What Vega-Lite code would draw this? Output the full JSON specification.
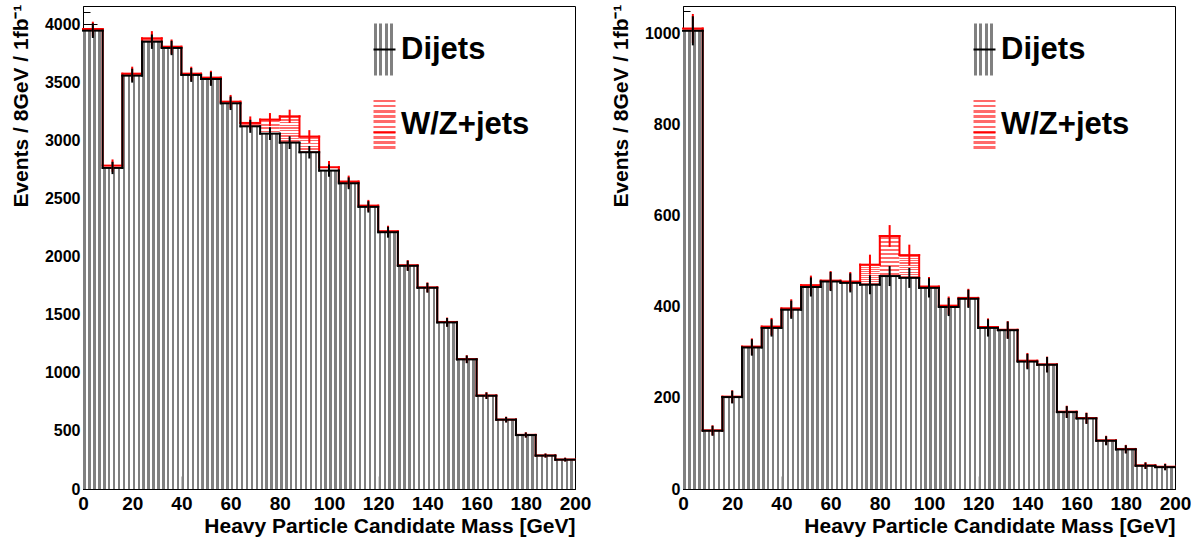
{
  "$schema": "https://vega.github.io/schema/vega-lite/v6.json",
  "padding": {"left": 9, "top": 3, "right": 5, "bottom": 0},
  "background": "white",
  "spacing": 108,
  "bounds": "flush",
  "config": {
    "font": "Liberation Sans",
    "view": {"stroke": "black", "strokeWidth": 1},
    "axis": {"grid": false, "domainColor": "black", "domainWidth": 1, "tickColor": "black", "tickWidth": 1, "labelColor": "black", "titleColor": "black", "labelFont": "Liberation Sans", "titleFont": "Liberation Sans", "labelFontWeight": "bold", "titleFontWeight": "bold", "zindex": 1, "labelOverlap": false, "labelFlush": false}
  },
  "datasets": {
    "left": [
      {"lo": 0, "hi": 8, "m": 4, "dijet": 3943, "ed": 63, "total": 3957, "et": 63},
      {"lo": 8, "hi": 16, "m": 12, "dijet": 2762, "ed": 53, "total": 2782, "et": 53},
      {"lo": 16, "hi": 24, "m": 20, "dijet": 3556, "ed": 60, "total": 3573, "et": 60},
      {"lo": 24, "hi": 32, "m": 28, "dijet": 3848, "ed": 62, "total": 3877, "et": 62},
      {"lo": 32, "hi": 40, "m": 36, "dijet": 3794, "ed": 62, "total": 3805, "et": 62},
      {"lo": 40, "hi": 48, "m": 44, "dijet": 3562, "ed": 60, "total": 3573, "et": 60},
      {"lo": 48, "hi": 56, "m": 52, "dijet": 3527, "ed": 59, "total": 3539, "et": 59},
      {"lo": 56, "hi": 64, "m": 60, "dijet": 3318, "ed": 58, "total": 3332, "et": 58},
      {"lo": 64, "hi": 72, "m": 68, "dijet": 3120, "ed": 56, "total": 3149, "et": 56},
      {"lo": 72, "hi": 80, "m": 76, "dijet": 3057, "ed": 55, "total": 3178, "et": 56},
      {"lo": 80, "hi": 88, "m": 84, "dijet": 2980, "ed": 55, "total": 3206, "et": 57},
      {"lo": 88, "hi": 96, "m": 92, "dijet": 2897, "ed": 54, "total": 3032, "et": 55},
      {"lo": 96, "hi": 104, "m": 100, "dijet": 2739, "ed": 52, "total": 2768, "et": 53},
      {"lo": 104, "hi": 112, "m": 108, "dijet": 2630, "ed": 51, "total": 2645, "et": 51},
      {"lo": 112, "hi": 120, "m": 116, "dijet": 2427, "ed": 49, "total": 2438, "et": 49},
      {"lo": 120, "hi": 128, "m": 124, "dijet": 2209, "ed": 47, "total": 2218, "et": 47},
      {"lo": 128, "hi": 136, "m": 132, "dijet": 1920, "ed": 44, "total": 1925, "et": 44},
      {"lo": 136, "hi": 144, "m": 140, "dijet": 1731, "ed": 42, "total": 1735, "et": 42},
      {"lo": 144, "hi": 152, "m": 148, "dijet": 1433, "ed": 38, "total": 1437, "et": 38},
      {"lo": 152, "hi": 160, "m": 156, "dijet": 1115, "ed": 33, "total": 1118, "et": 33},
      {"lo": 160, "hi": 168, "m": 164, "dijet": 802, "ed": 28, "total": 805, "et": 28},
      {"lo": 168, "hi": 176, "m": 172, "dijet": 596, "ed": 24, "total": 598, "et": 24},
      {"lo": 176, "hi": 184, "m": 180, "dijet": 464, "ed": 22, "total": 466, "et": 22},
      {"lo": 184, "hi": 192, "m": 188, "dijet": 287, "ed": 17, "total": 289, "et": 17},
      {"lo": 192, "hi": 200, "m": 196, "dijet": 252, "ed": 16, "total": 254, "et": 16}
    ],
    "right": [
      {"lo": 0, "hi": 8, "m": 4, "dijet": 1007, "ed": 32, "total": 1012, "et": 32},
      {"lo": 8, "hi": 16, "m": 12, "dijet": 128, "ed": 11, "total": 129, "et": 11},
      {"lo": 16, "hi": 24, "m": 20, "dijet": 202, "ed": 14, "total": 203, "et": 14},
      {"lo": 24, "hi": 32, "m": 28, "dijet": 311, "ed": 18, "total": 313, "et": 18},
      {"lo": 32, "hi": 40, "m": 36, "dijet": 354, "ed": 19, "total": 357, "et": 19},
      {"lo": 40, "hi": 48, "m": 44, "dijet": 394, "ed": 20, "total": 397, "et": 20},
      {"lo": 48, "hi": 56, "m": 52, "dijet": 444, "ed": 21, "total": 448, "et": 21},
      {"lo": 56, "hi": 64, "m": 60, "dijet": 456, "ed": 21, "total": 458, "et": 21},
      {"lo": 64, "hi": 72, "m": 68, "dijet": 453, "ed": 21, "total": 456, "et": 21},
      {"lo": 72, "hi": 80, "m": 76, "dijet": 449, "ed": 21, "total": 493, "et": 22},
      {"lo": 80, "hi": 88, "m": 84, "dijet": 468, "ed": 22, "total": 556, "et": 24},
      {"lo": 88, "hi": 96, "m": 92, "dijet": 464, "ed": 22, "total": 514, "et": 23},
      {"lo": 96, "hi": 104, "m": 100, "dijet": 442, "ed": 21, "total": 445, "et": 21},
      {"lo": 104, "hi": 112, "m": 108, "dijet": 400, "ed": 20, "total": 403, "et": 20},
      {"lo": 112, "hi": 120, "m": 116, "dijet": 418, "ed": 20, "total": 420, "et": 20},
      {"lo": 120, "hi": 128, "m": 124, "dijet": 354, "ed": 19, "total": 356, "et": 19},
      {"lo": 128, "hi": 136, "m": 132, "dijet": 349, "ed": 19, "total": 350, "et": 19},
      {"lo": 136, "hi": 144, "m": 140, "dijet": 280, "ed": 17, "total": 282, "et": 17},
      {"lo": 144, "hi": 152, "m": 148, "dijet": 273, "ed": 17, "total": 274, "et": 17},
      {"lo": 152, "hi": 160, "m": 156, "dijet": 169, "ed": 13, "total": 170, "et": 13},
      {"lo": 160, "hi": 168, "m": 164, "dijet": 155, "ed": 12, "total": 156, "et": 12},
      {"lo": 168, "hi": 176, "m": 172, "dijet": 106, "ed": 10, "total": 107, "et": 10},
      {"lo": 176, "hi": 184, "m": 180, "dijet": 87, "ed": 9, "total": 88, "et": 9},
      {"lo": 184, "hi": 192, "m": 188, "dijet": 51, "ed": 7, "total": 52, "et": 7},
      {"lo": 192, "hi": 200, "m": 196, "dijet": 48, "ed": 7, "total": 49, "et": 7}
    ]
  },
  "resolve": {"scale": {"fill": "independent", "stroke": "independent", "y": "independent"}, "legend": {"fill": "independent", "stroke": "independent"}},
  "hconcat": [
    {
      "width": 492,
      "height": 483,
      "data": {"name": "left"},
      "resolve": {"axis": {"x": "independent", "y": "independent"}},
      "layer": [
        {
          "mark": {"type": "rect"},
          "encoding": {
            "x": {"field": "lo", "type": "quantitative", "scale": {"domain": [0, 200], "nice": false, "zero": false},
              "axis": {"orient": "bottom", "values": [0,5,10,15,20,25,30,35,40,45,50,55,60,65,70,75,80,85,90,95,100,105,110,115,120,125,130,135,140,145,150,155,160,165,170,175,180,185,190,195,200], "tickSize": -7, "labels": false, "domain": false, "title": null}},
            "x2": {"field": "hi"},
            "y": {"field": "total", "type": "quantitative", "scale": {"domain": [0, 4155], "nice": false},
              "axis": {"orient": "left", "values": [0,100,200,300,400,500,600,700,800,900,1000,1100,1200,1300,1400,1500,1600,1700,1800,1900,2000,2100,2200,2300,2400,2500,2600,2700,2800,2900,3000,3100,3200,3300,3400,3500,3600,3700,3800,3900,4000,4100], "tickSize": -7, "labels": false, "domain": false, "title": null}},
            "y2": {"field": "dijet"},
            "fill": {"datum": "W/Z+jets"}
          }
        },
        {
          "mark": {"type": "rect"},
          "encoding": {
            "x": {"field": "lo", "type": "quantitative",
              "axis": {"orient": "bottom", "values": [0,20,40,60,80,100,120,140,160,180,200], "tickSize": -13, "labelPadding": 18, "labelFontSize": 19, "title": "Heavy Particle Candidate Mass [GeV]", "titleFontSize": 21, "titleAnchor": "end", "titleAlign": "right", "titleBaseline": "alphabetic", "titleX": 492, "titleY": 43}},
            "x2": {"field": "hi"},
            "y": {"field": "dijet", "type": "quantitative",
              "axis": {"orient": "left", "values": [0,500,1000,1500,2000,2500,3000,3500,4000], "format": "d", "tickSize": -14, "labelPadding": 17, "labelFontSize": 16, "title": "Events / 8GeV / 1fb⁻¹", "titleFontSize": 21, "titleAngle": 270, "titleAlign": "right", "titleBaseline": "alphabetic", "titleX": -56, "titleY": -2}},
            "y2": {"datum": 0},
            "fill": {"datum": "Dijets",
              "scale": {"domain": ["Dijets", "W/Z+jets"], "range": [
                {"expr": "{gradient:'linear',x1:0,y1:0,x2:1,y2:0,stops:[{offset:0,color:'#ffffff'},{offset:0.02,color:'#ffffff'},{offset:0.02,color:'#808080'},{offset:0.145,color:'#808080'},{offset:0.145,color:'#ffffff'},{offset:0.27,color:'#ffffff'},{offset:0.27,color:'#808080'},{offset:0.395,color:'#808080'},{offset:0.395,color:'#ffffff'},{offset:0.52,color:'#ffffff'},{offset:0.52,color:'#808080'},{offset:0.645,color:'#808080'},{offset:0.645,color:'#ffffff'},{offset:0.77,color:'#ffffff'},{offset:0.77,color:'#808080'},{offset:0.895,color:'#808080'},{offset:0.895,color:'#ffffff'},{offset:1,color:'#ffffff'}]}"},
                {"expr": "{gradient:'linear',x1:0,y1:0,x2:0,y2:1,stops:[{offset:0,color:'#ffffff'},{offset:0.02,color:'#ffffff'},{offset:0.02,color:'#ff6a6a'},{offset:0.07,color:'#ff6a6a'},{offset:0.07,color:'#ffffff'},{offset:0.12,color:'#ffffff'},{offset:0.12,color:'#ff6a6a'},{offset:0.17,color:'#ff6a6a'},{offset:0.17,color:'#ffffff'},{offset:0.22,color:'#ffffff'},{offset:0.22,color:'#ff6a6a'},{offset:0.27,color:'#ff6a6a'},{offset:0.27,color:'#ffffff'},{offset:0.32,color:'#ffffff'},{offset:0.32,color:'#ff6a6a'},{offset:0.37,color:'#ff6a6a'},{offset:0.37,color:'#ffffff'},{offset:0.42,color:'#ffffff'},{offset:0.42,color:'#ff6a6a'},{offset:0.47,color:'#ff6a6a'},{offset:0.47,color:'#ffffff'},{offset:0.52,color:'#ffffff'},{offset:0.52,color:'#ff6a6a'},{offset:0.57,color:'#ff6a6a'},{offset:0.57,color:'#ffffff'},{offset:0.62,color:'#ffffff'},{offset:0.62,color:'#ff6a6a'},{offset:0.67,color:'#ff6a6a'},{offset:0.67,color:'#ffffff'},{offset:0.72,color:'#ffffff'},{offset:0.72,color:'#ff6a6a'},{offset:0.77,color:'#ff6a6a'},{offset:0.77,color:'#ffffff'},{offset:0.82,color:'#ffffff'},{offset:0.82,color:'#ff6a6a'},{offset:0.87,color:'#ff6a6a'},{offset:0.87,color:'#ffffff'},{offset:0.92,color:'#ffffff'},{offset:0.92,color:'#ff6a6a'},{offset:0.97,color:'#ff6a6a'},{offset:0.97,color:'#ffffff'},{offset:1,color:'#ffffff'}]}"}
              ]},
              "legend": {"title": null, "orient": "none", "legendX": 286, "legendY": 28, "padding": 0, "symbolType": "M-1,-2.36H1V2.36H-1Z", "symbolSize": 484, "symbolStrokeWidth": 0, "symbolOpacity": 1, "labelFont": "Liberation Sans", "labelFontWeight": "bold", "labelFontSize": 31, "labelColor": "black", "labelOffset": 1, "rowPadding": 22, "labelLimit": 400}
            }
          }
        },
        {
          "mark": {"type": "rule", "strokeWidth": 2, "strokeCap": "square"},
          "encoding": {
            "x": {"field": "lo", "type": "quantitative", "axis": null},
            "x2": {"field": "hi"},
            "y": {"field": "total", "type": "quantitative", "axis": null},
            "stroke": {"datum": "WZ_line",
              "scale": {"domain": ["Dijets_line", "WZ_line"], "range": ["#000000", "#ff0000"]},
              "legend": {"title": null, "orient": "none", "legendX": 286, "legendY": 28, "padding": 0, "symbolType": "M-1,-2.36M-1,0H1M1,2.36", "symbolSize": 484, "symbolStrokeWidth": 2, "labelFont": "Liberation Sans", "labelFontWeight": "bold", "labelFontSize": 31, "labelExpr": "''", "labelOffset": 1, "rowPadding": 22}}
          }
        },
        {
          "transform": [{"window": [{"op": "lag", "field": "total", "as": "prev"}], "sort": [{"field": "lo"}]}],
          "mark": {"type": "rule", "strokeWidth": 2, "strokeCap": "square"},
          "encoding": {
            "x": {"field": "lo", "type": "quantitative", "axis": null},
            "y": {"field": "prev", "type": "quantitative", "axis": null},
            "y2": {"field": "total"},
            "stroke": {"datum": "WZ_line"}
          }
        },
        {
          "mark": {"type": "rule", "strokeWidth": 2, "strokeCap": "square"},
          "encoding": {
            "x": {"field": "lo", "type": "quantitative", "axis": null},
            "x2": {"field": "hi"},
            "y": {"field": "dijet", "type": "quantitative", "axis": null},
            "stroke": {"datum": "Dijets_line"}
          }
        },
        {
          "transform": [{"window": [{"op": "lag", "field": "dijet", "as": "prev"}], "sort": [{"field": "lo"}]}],
          "mark": {"type": "rule", "strokeWidth": 2, "strokeCap": "square"},
          "encoding": {
            "x": {"field": "lo", "type": "quantitative", "axis": null},
            "y": {"field": "prev", "type": "quantitative", "axis": null},
            "y2": {"field": "dijet"},
            "stroke": {"datum": "Dijets_line"}
          }
        },
        {
          "mark": {"type": "errorbar", "color": "#ff0000", "thickness": 2},
          "encoding": {
            "x": {"field": "m", "type": "quantitative", "axis": null},
            "y": {"field": "total", "type": "quantitative", "axis": null},
            "yError": {"field": "et"}
          }
        },
        {
          "mark": {"type": "errorbar", "color": "#000000", "thickness": 2},
          "encoding": {
            "x": {"field": "m", "type": "quantitative", "axis": null},
            "y": {"field": "dijet", "type": "quantitative", "axis": null},
            "yError": {"field": "ed"}
          }
        }
      ]
    },
    {
      "width": 492,
      "height": 483,
      "data": {"name": "right"},
      "resolve": {"axis": {"x": "independent", "y": "independent"}},
      "layer": [
        {
          "mark": {"type": "rect"},
          "encoding": {
            "x": {"field": "lo", "type": "quantitative", "scale": {"domain": [0, 200], "nice": false, "zero": false},
              "axis": {"orient": "bottom", "values": [0,5,10,15,20,25,30,35,40,45,50,55,60,65,70,75,80,85,90,95,100,105,110,115,120,125,130,135,140,145,150,155,160,165,170,175,180,185,190,195,200], "tickSize": -7, "labels": false, "domain": false, "title": null}},
            "x2": {"field": "hi"},
            "y": {"field": "total", "type": "quantitative", "scale": {"domain": [0, 1061.5], "nice": false},
              "axis": {"orient": "left", "values": [0,50,100,150,200,250,300,350,400,450,500,550,600,650,700,750,800,850,900,950,1000,1050], "tickSize": -7, "labels": false, "domain": false, "title": null}},
            "y2": {"field": "dijet"},
            "fill": {"datum": "W/Z+jets"}
          }
        },
        {
          "mark": {"type": "rect"},
          "encoding": {
            "x": {"field": "lo", "type": "quantitative",
              "axis": {"orient": "bottom", "values": [0,20,40,60,80,100,120,140,160,180,200], "tickSize": -13, "labelPadding": 18, "labelFontSize": 19, "title": "Heavy Particle Candidate Mass [GeV]", "titleFontSize": 21, "titleAnchor": "end", "titleAlign": "right", "titleBaseline": "alphabetic", "titleX": 492, "titleY": 43}},
            "x2": {"field": "hi"},
            "y": {"field": "dijet", "type": "quantitative",
              "axis": {"orient": "left", "values": [0,200,400,600,800,1000], "format": "d", "tickSize": -14, "labelPadding": 17, "labelFontSize": 16, "title": "Events / 8GeV / 1fb⁻¹", "titleFontSize": 21, "titleAngle": 270, "titleAlign": "right", "titleBaseline": "alphabetic", "titleX": -56, "titleY": -2}},
            "y2": {"datum": 0},
            "fill": {"datum": "Dijets",
              "scale": {"domain": ["Dijets", "W/Z+jets"], "range": [
                {"expr": "{gradient:'linear',x1:0,y1:0,x2:1,y2:0,stops:[{offset:0,color:'#ffffff'},{offset:0.02,color:'#ffffff'},{offset:0.02,color:'#808080'},{offset:0.145,color:'#808080'},{offset:0.145,color:'#ffffff'},{offset:0.27,color:'#ffffff'},{offset:0.27,color:'#808080'},{offset:0.395,color:'#808080'},{offset:0.395,color:'#ffffff'},{offset:0.52,color:'#ffffff'},{offset:0.52,color:'#808080'},{offset:0.645,color:'#808080'},{offset:0.645,color:'#ffffff'},{offset:0.77,color:'#ffffff'},{offset:0.77,color:'#808080'},{offset:0.895,color:'#808080'},{offset:0.895,color:'#ffffff'},{offset:1,color:'#ffffff'}]}"},
                {"expr": "{gradient:'linear',x1:0,y1:0,x2:0,y2:1,stops:[{offset:0,color:'#ffffff'},{offset:0.02,color:'#ffffff'},{offset:0.02,color:'#ff6a6a'},{offset:0.07,color:'#ff6a6a'},{offset:0.07,color:'#ffffff'},{offset:0.12,color:'#ffffff'},{offset:0.12,color:'#ff6a6a'},{offset:0.17,color:'#ff6a6a'},{offset:0.17,color:'#ffffff'},{offset:0.22,color:'#ffffff'},{offset:0.22,color:'#ff6a6a'},{offset:0.27,color:'#ff6a6a'},{offset:0.27,color:'#ffffff'},{offset:0.32,color:'#ffffff'},{offset:0.32,color:'#ff6a6a'},{offset:0.37,color:'#ff6a6a'},{offset:0.37,color:'#ffffff'},{offset:0.42,color:'#ffffff'},{offset:0.42,color:'#ff6a6a'},{offset:0.47,color:'#ff6a6a'},{offset:0.47,color:'#ffffff'},{offset:0.52,color:'#ffffff'},{offset:0.52,color:'#ff6a6a'},{offset:0.57,color:'#ff6a6a'},{offset:0.57,color:'#ffffff'},{offset:0.62,color:'#ffffff'},{offset:0.62,color:'#ff6a6a'},{offset:0.67,color:'#ff6a6a'},{offset:0.67,color:'#ffffff'},{offset:0.72,color:'#ffffff'},{offset:0.72,color:'#ff6a6a'},{offset:0.77,color:'#ff6a6a'},{offset:0.77,color:'#ffffff'},{offset:0.82,color:'#ffffff'},{offset:0.82,color:'#ff6a6a'},{offset:0.87,color:'#ff6a6a'},{offset:0.87,color:'#ffffff'},{offset:0.92,color:'#ffffff'},{offset:0.92,color:'#ff6a6a'},{offset:0.97,color:'#ff6a6a'},{offset:0.97,color:'#ffffff'},{offset:1,color:'#ffffff'}]}"}
              ]},
              "legend": {"title": null, "orient": "none", "legendX": 286, "legendY": 28, "padding": 0, "symbolType": "M-1,-2.36H1V2.36H-1Z", "symbolSize": 484, "symbolStrokeWidth": 0, "symbolOpacity": 1, "labelFont": "Liberation Sans", "labelFontWeight": "bold", "labelFontSize": 31, "labelColor": "black", "labelOffset": 1, "rowPadding": 22, "labelLimit": 400}
            }
          }
        },
        {
          "mark": {"type": "rule", "strokeWidth": 2, "strokeCap": "square"},
          "encoding": {
            "x": {"field": "lo", "type": "quantitative", "axis": null},
            "x2": {"field": "hi"},
            "y": {"field": "total", "type": "quantitative", "axis": null},
            "stroke": {"datum": "WZ_line",
              "scale": {"domain": ["Dijets_line", "WZ_line"], "range": ["#000000", "#ff0000"]},
              "legend": {"title": null, "orient": "none", "legendX": 286, "legendY": 28, "padding": 0, "symbolType": "M-1,-2.36M-1,0H1M1,2.36", "symbolSize": 484, "symbolStrokeWidth": 2, "labelFont": "Liberation Sans", "labelFontWeight": "bold", "labelFontSize": 31, "labelExpr": "''", "labelOffset": 1, "rowPadding": 22}}
          }
        },
        {
          "transform": [{"window": [{"op": "lag", "field": "total", "as": "prev"}], "sort": [{"field": "lo"}]}],
          "mark": {"type": "rule", "strokeWidth": 2, "strokeCap": "square"},
          "encoding": {
            "x": {"field": "lo", "type": "quantitative", "axis": null},
            "y": {"field": "prev", "type": "quantitative", "axis": null},
            "y2": {"field": "total"},
            "stroke": {"datum": "WZ_line"}
          }
        },
        {
          "mark": {"type": "rule", "strokeWidth": 2, "strokeCap": "square"},
          "encoding": {
            "x": {"field": "lo", "type": "quantitative", "axis": null},
            "x2": {"field": "hi"},
            "y": {"field": "dijet", "type": "quantitative", "axis": null},
            "stroke": {"datum": "Dijets_line"}
          }
        },
        {
          "transform": [{"window": [{"op": "lag", "field": "dijet", "as": "prev"}], "sort": [{"field": "lo"}]}],
          "mark": {"type": "rule", "strokeWidth": 2, "strokeCap": "square"},
          "encoding": {
            "x": {"field": "lo", "type": "quantitative", "axis": null},
            "y": {"field": "prev", "type": "quantitative", "axis": null},
            "y2": {"field": "dijet"},
            "stroke": {"datum": "Dijets_line"}
          }
        },
        {
          "mark": {"type": "errorbar", "color": "#ff0000", "thickness": 2},
          "encoding": {
            "x": {"field": "m", "type": "quantitative", "axis": null},
            "y": {"field": "total", "type": "quantitative", "axis": null},
            "yError": {"field": "et"}
          }
        },
        {
          "mark": {"type": "errorbar", "color": "#000000", "thickness": 2},
          "encoding": {
            "x": {"field": "m", "type": "quantitative", "axis": null},
            "y": {"field": "dijet", "type": "quantitative", "axis": null},
            "yError": {"field": "ed"}
          }
        }
      ]
    }
  ]
}
